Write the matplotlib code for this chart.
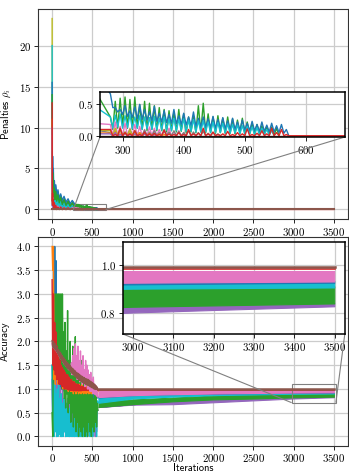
import matplotlib
matplotlib.use("Agg")
import matplotlib.pyplot as plt
from mpl_toolkits.axes_grid1.inset_locator import mark_inset

plt.rcParams['font.family'] = 'serif'
plt.rcParams['font.serif'] = ['cmr10']
plt.rcParams['mathtext.fontset'] = 'cm'
plt.rcParams['axes.formatter.use_mathtext'] = True
plt.rcParams['font.size'] = 7.8

C = {'blue': '#1f77b4', 'orange': '#ff7f0e', 'green': '#2ca02c', 'red': '#d62728',
     'purple': '#9467bd', 'brown': '#8c564b', 'pink': '#e377c2', 'gray': '#7f7f7f',
     'olive': '#bcbd22', 'cyan': '#17becf'}

# ---------------- penalties (top) ----------------
# first iterations, one value per x
pen_x_early = [0, 3, 6, 10, 15, 20, 28, 36, 46, 58, 72, 88, 106, 126, 148, 172, 198, 224, 250]
pen_blue_early = [15.5, 4.0, 6.5, 3.0, 5.0, 2.5, 3.5, 2.0, 3.0, 1.6, 2.4, 1.3, 1.9, 1.1, 1.6, 0.9, 1.3, 0.7, 1.1]
pen_green_early = [14.0, 3.0, 4.5, 2.0, 3.5, 1.5, 2.6, 1.2, 2.2, 1.0, 1.8, 0.8, 1.5, 0.6, 1.2, 0.5, 1.0, 0.4, 0.8]
pen_cyan_early = [20.0, 2.5, 4.0, 1.5, 3.0, 1.0, 2.0, 0.8, 1.5, 0.6, 1.2, 0.5, 1.0, 0.4, 0.8, 0.3, 0.6, 0.2, 0.5]
pen_red_early = [13.0, 1.0, 2.0, 0.5, 1.2, 0.2, 0.8, 0.1, 0.5, 0.0, 0.3, 0.0, 0.3, 0.0, 0.2, 0.0, 0.2, 0.0, 0.1]
pen_olive_early = [23.3, 1.0, 1.5, 0.4, 0.8, 0.2, 0.5, 0.1, 0.3, 0.0, 0.2, 0.0, 0.2, 0.0, 0.15, 0.0, 0.1, 0.0, 0.1]
pen_pink_early = [9.0, 0.8, 1.5, 0.4, 1.0, 0.3, 0.7, 0.2, 0.5, 0.1, 0.4, 0.05, 0.3, 0.0, 0.25, 0.0, 0.2, 0.0, 0.2]
pen_gray_early = [7.0, 0.5, 1.0, 0.3, 0.6, 0.2, 0.4, 0.1, 0.3, 0.0, 0.2, 0.0, 0.15, 0.0, 0.1, 0.0, 0.1, 0.0, 0.1]
pen_orange_early = [11.0, 0.6, 1.2, 0.2, 0.6, 0.1, 0.4, 0.0, 0.2, 0.0, 0.1, 0.0, 0.1, 0.0, 0.05, 0.0, 0.05, 0.0, 0.05]
pen_purple_early = [10.0, 0.4, 0.8, 0.1, 0.4, 0.0, 0.2, 0.0, 0.1, 0.0, 0.1, 0.0, 0.05, 0.0, 0.05, 0.0, 0.05, 0.0, 0.03]

# from iteration 280 on: spike tops every 8 iterations, dips in between
pen_late_start = 280
pen_blue_peaks = [0.67, 0.45, 0.42, 0.48, 0.40, 0.46, 0.50, 0.42, 0.38, 0.47, 0.36, 0.40, 0.34, 0.42, 0.32, 0.36,
                  0.30, 0.38, 0.28, 0.30, 0.27, 0.31, 0.26, 0.29, 0.24, 0.28, 0.22, 0.25, 0.20, 0.23, 0.18, 0.22,
                  0.17, 0.20, 0.16, 0.18, 0.10]
pen_blue_dips = [0.45, 0.38, 0.34, 0.31, 0.29, 0.27, 0.26, 0.25, 0.24, 0.23, 0.22, 0.21, 0.20, 0.19, 0.18, 0.17,
                 0.16, 0.15, 0.14, 0.14, 0.13, 0.12, 0.12, 0.11, 0.10, 0.10, 0.09, 0.09, 0.08, 0.08, 0.07, 0.07,
                 0.06, 0.06, 0.05, 0.04, 0.0]
pen_green_peaks = [0.30, 0.55, 0.60, 0.62, 0.58, 0.62, 0.50, 0.55, 0.52, 0.48, 0.45, 0.42, 0.40, 0.38, 0.42, 0.35,
                   0.30, 0.32, 0.48, 0.52, 0.35, 0.30, 0.32, 0.28, 0.30, 0.27, 0.25, 0.28, 0.22, 0.20, 0.18, 0.16,
                   0.15, 0.14, 0.12]
pen_green_dips = [0.10, 0.12, 0.15, 0.12, 0.10, 0.12, 0.10, 0.08, 0.10, 0.08, 0.08, 0.06, 0.08, 0.06, 0.07, 0.05,
                  0.06, 0.05, 0.06, 0.05, 0.05, 0.04, 0.05, 0.04, 0.04, 0.03, 0.04, 0.03, 0.03, 0.02, 0.03, 0.02,
                  0.02, 0.01, 0.0]
pen_cyan_peaks = [0.30, 0.33, 0.35, 0.32, 0.34, 0.30, 0.32, 0.30, 0.29, 0.31, 0.28, 0.30, 0.27, 0.28, 0.26, 0.27,
                  0.25, 0.26, 0.24, 0.24, 0.22, 0.22, 0.21, 0.20, 0.19, 0.18, 0.17, 0.16, 0.15, 0.14, 0.13, 0.12,
                  0.10, 0.08]
pen_cyan_dips = [0.12, 0.14, 0.12, 0.13, 0.11, 0.12, 0.10, 0.11, 0.10, 0.10, 0.09, 0.09, 0.08, 0.08, 0.08, 0.07,
                 0.07, 0.06, 0.06, 0.06, 0.05, 0.05, 0.05, 0.04, 0.04, 0.04, 0.03, 0.03, 0.03, 0.02, 0.02, 0.02,
                 0.01, 0.0]
# small series drop back to zero between spikes
pen_red_peaks = [0.10, 0.02, 0.12, 0.05, 0.03, 0.08, 0.02, 0.06, 0.03, 0.04, 0.02, 0.09, 0.03, 0.02, 0.05, 0.02,
                 0.10, 0.03, 0.04, 0.12, 0.03, 0.06, 0.02, 0.03, 0.07, 0.02, 0.05, 0.03, 0.11, 0.02, 0.04, 0.08,
                 0.03, 0.12, 0.05, 0.10, 0.02]
pen_pink_peaks = [0.18, 0.22, 0.15, 0.20, 0.12, 0.18, 0.15, 0.10, 0.14, 0.12, 0.10, 0.08, 0.12, 0.06, 0.08, 0.05]
pen_gray_peaks = [0.05, 0.08, 0.10, 0.06, 0.10, 0.08, 0.05, 0.09, 0.06, 0.08, 0.05, 0.10, 0.06, 0.08, 0.07, 0.05,
                  0.08, 0.06, 0.05, 0.07, 0.04, 0.05, 0.03]
pen_olive_peaks = [0.08, 0.12, 0.10, 0.06, 0.10, 0.08, 0.05, 0.04]
pen_orange_peaks = [0.04, 0.06, 0.03, 0.05, 0.04, 0.02, 0.05, 0.03, 0.04, 0.02, 0.03, 0.02]
pen_purple_peaks = [0.03, 0.05, 0.02, 0.04, 0.02, 0.03, 0.02, 0.03, 0.02, 0.02]
pen_end = 3500

# ---------------- accuracy (bottom) ----------------
# noisy phase: tops at 0, 16, 32, ... and dips at 8, 24, 40, ...
acc_green_peaks = [0.5, 3.0, 3.0, 3.0, 3.0, 3.0, 3.0, 3.0, 3.0, 2.2, 2.4, 1.8, 2.65, 1.6, 2.0, 1.5, 1.9, 1.4,
                   2.1, 1.3, 1.7, 1.2, 1.5, 1.6, 1.1, 1.3, 1.4, 1.0, 1.2, 1.3, 0.9, 1.1, 0.8, 1.0, 0.9, 0.7]
acc_green_dips = [0.0, 1.5, 1.8, 1.4, 1.6, 1.2, 1.5, 1.0, 1.3, 0.8, 0.6, 0.9, 0.5, 0.7, 0.3, 0.5, 0.2, 0.4,
                  0.1, 0.3, 0.0, 0.2, 0.1, 0.0, 0.2, 0.0, 0.1, 0.0, 0.3, 0.1, 0.0, 0.2, 0.1, 0.3, 0.2, 0.55]
acc_cyan_peaks = [1.5, 1.1, 1.2, 0.9, 1.0, 1.1, 0.8, 0.9, 0.7, 0.8, 0.6, 0.7, 0.5, 0.6, 0.4, 0.5, 0.3, 0.4,
                  0.3, 0.35, 0.3, 0.25, 0.3, 0.2, 0.3, 0.25, 0.35, 0.5, 0.6, 0.7, 0.8, 0.6, 0.7, 0.8, 0.6, 0.75]
acc_cyan_dips = [0.0, 0.0, 0.1, 0.0, 0.0, 0.05, 0.0, 0.0, 0.0, 0.1, 0.0, 0.0, 0.0, 0.0, 0.0, 0.0, 0.0, 0.0,
                 0.0, 0.0, 0.0, 0.0, 0.0, 0.0, 0.0, 0.0, 0.0, 0.0, 0.1, 0.0, 0.2, 0.0, 0.1, 0.2, 0.0, 0.72]
acc_purple_peaks = [1.2, 1.5, 1.0, 1.3, 1.2, 0.9, 1.1, 0.8, 1.0, 0.7, 0.9, 0.6, 0.8, 0.6, 0.7, 0.5, 0.8, 0.4,
                    0.7, 0.5, 0.6, 0.4, 0.7, 0.5, 0.8, 0.6, 0.7, 0.5, 0.8, 0.9, 0.6, 0.7, 0.5, 0.6, 0.5, 0.6]
acc_purple_dips = [0.2, 0.1, 0.3, 0.0, 0.2, 0.1, 0.3, 0.0, 0.2, 0.1, 0.0, 0.2, 0.1, 0.0, 0.1, 0.0, 0.2, 0.0,
                   0.1, 0.0, 0.1, 0.0, 0.0, 0.1, 0.0, 0.1, 0.0, 0.0, 0.1, 0.0, 0.1, 0.0, 0.1, 0.0, 0.1, 0.55]
acc_orange_peaks = [4.0, 4.0, 1.5, 1.6, 1.4, 1.5, 1.3, 1.4, 1.3, 1.3, 1.2, 1.3, 1.2, 1.2, 1.1, 1.2, 1.1, 1.15,
                    1.1, 1.1, 1.05, 1.1, 1.0, 1.1, 1.0, 1.05, 1.0, 1.05, 1.0, 1.0, 0.98, 1.0, 0.98, 1.0, 0.97, 0.98]
acc_orange_dips = [3.5, 1.2, 1.1, 1.2, 1.1, 1.15, 1.1, 1.1, 1.0, 1.05, 1.0, 1.0, 0.95, 1.0, 0.95, 0.95, 0.9, 0.95,
                   0.9, 0.95, 0.9, 0.92, 0.9, 0.92, 0.9, 0.92, 0.9, 0.92, 0.9, 0.92, 0.9, 0.93, 0.92, 0.93, 0.93, 0.95]
acc_blue_peaks = [1.5, 2.0, 4.0, 3.7, 1.9, 1.5, 1.4, 1.35, 1.3, 1.3, 1.25, 1.2, 1.2, 1.15, 1.15, 1.1, 1.1, 1.1,
                  1.05, 1.05, 1.05, 1.0, 1.0, 1.0, 0.98, 0.97, 0.97, 0.95, 0.95, 0.93, 0.93, 0.92, 0.92, 0.9, 0.9, 0.85]
acc_blue_dips = [0.5, 1.0, 1.5, 1.4, 1.2, 1.1, 1.05, 1.0, 1.0, 0.95, 0.95, 0.9, 0.9, 0.9, 0.85, 0.85, 0.85, 0.8,
                 0.8, 0.8, 0.8, 0.78, 0.78, 0.78, 0.76, 0.76, 0.76, 0.76, 0.76, 0.77, 0.77, 0.78, 0.78, 0.79, 0.8, 0.82]
acc_red_peaks = [3.3, 3.0, 2.4, 2.2, 1.9, 1.7, 1.6, 1.5, 1.45, 1.4, 1.35, 1.3, 1.3, 1.25, 1.2, 1.2, 1.15, 1.15,
                 1.12, 1.1, 1.1, 1.08, 1.06, 1.05, 1.05, 1.04, 1.03, 1.02, 1.02, 1.01, 1.0, 1.0, 1.0, 0.99, 0.99, 0.985]
acc_red_dips = [1.5, 1.4, 1.3, 1.2, 1.2, 1.1, 1.1, 1.05, 1.05, 1.0, 1.0, 1.0, 0.98, 0.98, 0.97, 0.97, 0.96, 0.96,
                0.96, 0.96, 0.96, 0.96, 0.96, 0.97, 0.97, 0.97, 0.97, 0.97, 0.97, 0.98, 0.98, 0.98, 0.98, 0.98, 0.98, 0.983]
acc_pink_peaks = [1.95, 1.93, 1.9, 1.86, 1.82, 1.77, 1.72, 1.68, 1.64, 1.6, 1.56, 1.52, 1.5, 1.46, 1.44, 1.55,
                  1.7, 1.85, 1.95, 1.7, 1.9, 1.6, 1.8, 1.5, 1.7, 1.4, 1.6, 1.5, 1.4, 1.3, 1.35, 1.2, 1.25, 1.1,
                  1.05, 0.97]
acc_pink_dips = [1.88, 1.86, 1.82, 1.78, 1.74, 1.69, 1.64, 1.6, 1.56, 1.52, 1.48, 1.45, 1.42, 1.39, 1.36, 1.3,
                 1.3, 1.3, 1.35, 1.2, 1.3, 1.15, 1.2, 1.1, 1.2, 1.05, 1.1, 1.0, 1.0, 0.95, 0.95, 0.9, 0.9, 0.88,
                 0.85, 0.83]
acc_brown_peaks = [2.02, 2.0, 1.96, 1.92, 1.88, 1.83, 1.78, 1.74, 1.7, 1.66, 1.62, 1.58, 1.55, 1.52, 1.49, 1.46,
                   1.43, 1.4, 1.38, 1.35, 1.33, 1.31, 1.29, 1.27, 1.25, 1.24, 1.22, 1.21, 1.2, 1.18, 1.16, 1.14,
                   1.12, 1.1, 1.07, 1.04]
acc_brown_dips = [1.88, 1.86, 1.82, 1.78, 1.74, 1.69, 1.64, 1.6, 1.56, 1.52, 1.48, 1.45, 1.42, 1.39, 1.36, 1.33,
                  1.3, 1.27, 1.25, 1.22, 1.2, 1.18, 1.16, 1.14, 1.12, 1.11, 1.09, 1.08, 1.07, 1.05, 1.03, 1.02,
                  1.0, 0.99, 0.99, 0.99]

# converged phase, band edges
tail_x = [575, 1000, 1500, 2000, 2500, 3000, 3500]
tail_pink_hi = [0.975, 0.975, 0.975, 0.975, 0.975, 0.974, 0.974]
tail_pink_lo = [0.83, 0.87, 0.89, 0.905, 0.915, 0.925, 0.93]
tail_blue_hi = [0.84, 0.88, 0.90, 0.91, 0.92, 0.925, 0.932]
tail_blue_lo = [0.82, 0.87, 0.89, 0.90, 0.91, 0.918, 0.925]
tail_cyan_hi = [0.82, 0.87, 0.89, 0.90, 0.91, 0.918, 0.925]
tail_cyan_lo = [0.71, 0.80, 0.84, 0.87, 0.885, 0.90, 0.905]
tail_green_hi = [0.74, 0.78, 0.82, 0.86, 0.88, 0.90, 0.91]
tail_green_lo = [0.62, 0.68, 0.74, 0.78, 0.80, 0.824, 0.838]
tail_purple_hi = [0.62, 0.68, 0.74, 0.78, 0.80, 0.824, 0.838]
tail_purple_lo = [0.62, 0.67, 0.68, 0.72, 0.76, 0.80, 0.826]
tail_red = [0.983, 0.983, 0.983, 0.983, 0.983, 0.983, 0.983]
tail_brown = [0.993, 0.993, 0.993, 0.993, 0.993, 0.993, 0.993]


def zigzag(x0, half_step, peaks, dips=None):
    xs, ys = [], []
    for i, p in enumerate(peaks):
        d = 0.0 if dips is None else dips[i]
        xs += [x0 + 2 * i * half_step, x0 + (2 * i + 1) * half_step]
        ys += [p, d]
    return xs, ys


def pen_series(early, peaks, dips=None):
    lx, ly = zigzag(pen_late_start, 4, peaks, dips)
    return pen_x_early + lx, early + ly


pen = {
    'blue': pen_series(pen_blue_early, pen_blue_peaks, pen_blue_dips),
    'green': pen_series(pen_green_early, pen_green_peaks, pen_green_dips),
    'cyan': pen_series(pen_cyan_early, pen_cyan_peaks, pen_cyan_dips),
    'red': pen_series(pen_red_early, pen_red_peaks),
    'olive': pen_series(pen_olive_early, pen_olive_peaks),
    'pink': pen_series(pen_pink_early, pen_pink_peaks),
    'gray': pen_series(pen_gray_early, pen_gray_peaks),
    'orange': pen_series(pen_orange_early, pen_orange_peaks),
    'purple': pen_series(pen_purple_early, pen_purple_peaks),
}
# red and brown stay at zero until the end
pen['red'] = (pen['red'][0] + [pen_end], pen['red'][1] + [0.0])
pen['brown'] = ([0, pen_end], [0.0, 0.0])

acc = {
    'purple': zigzag(0, 8, acc_purple_peaks, acc_purple_dips),
    'blue': zigzag(0, 8, acc_blue_peaks, acc_blue_dips),
    'cyan': zigzag(0, 8, acc_cyan_peaks, acc_cyan_dips),
    'green': zigzag(0, 8, acc_green_peaks, acc_green_dips),
    'orange': zigzag(0, 8, acc_orange_peaks, acc_orange_dips),
    'red': zigzag(0, 8, acc_red_peaks, acc_red_dips),
    'pink': zigzag(0, 8, acc_pink_peaks, acc_pink_dips),
    'brown': zigzag(0, 8, acc_brown_peaks, acc_brown_dips),
}
tail_bands = [('purple', tail_purple_lo, tail_purple_hi), ('green', tail_green_lo, tail_green_hi),
              ('cyan', tail_cyan_lo, tail_cyan_hi), ('blue', tail_blue_lo, tail_blue_hi),
              ('pink', tail_pink_lo, tail_pink_hi)]


def draw_acc(ax):
    for name, (x, y) in acc.items():
        ax.plot(x, y, color=C[name], lw=1.0)
    for name, lo, hi in tail_bands:
        ax.fill_between(tail_x, lo, hi, color=C[name], lw=0.8, edgecolor=C[name])
    ax.plot(tail_x, tail_red, color=C['red'], lw=1.2)
    ax.plot(tail_x, tail_brown, color=C['brown'], lw=1.8)


def style(ax, inset=False):
    ax.grid(True, color='#cccccc', lw=0.9)
    ax.set_axisbelow(True)
    ax.tick_params(length=3, width=0.6, pad=2)
    for s in ax.spines.values():
        s.set_linewidth(1.1 if inset else 0.8)
        s.set_color('black' if inset else '#333333')


fig = plt.figure(figsize=(3.49, 4.74), dpi=100)
ax1 = fig.add_axes([0.109, 0.538, 0.888, 0.443])
ax2 = fig.add_axes([0.109, 0.0591, 0.888, 0.441])

# top panel: the dense early part reads as a filled blob
for name in ['blue', 'green', 'cyan', 'pink', 'gray', 'orange', 'purple', 'olive', 'red']:
    x, y = pen[name]
    ax1.fill_between(x, 0, y, color=C[name], lw=0)
for name in ['olive', 'cyan', 'blue', 'green', 'pink', 'gray', 'orange', 'purple', 'red', 'brown']:
    x, y = pen[name]
    ax1.plot(x, y, color=C[name], lw=1.5 if name == 'brown' else 1.0)
style(ax1)
ax1.set_yticks([0, 5, 10, 15, 20])
ax1.set_ylabel(r'Penalties $\rho_i$', fontfamily='cmss10', fontsize=7.5)

ins1 = fig.add_axes([0.2865, 0.711, 0.702, 0.095])
for name in ['green', 'blue', 'cyan', 'pink', 'gray', 'olive', 'orange', 'purple', 'brown', 'red']:
    x, y = pen[name]
    ins1.plot(x, y, color=C[name], lw=1.0)
ins1.set_xlim(263, 664)
ins1.set_ylim(-0.02, 0.70)
ins1.set_xticks([300, 400, 500, 600])
ins1.set_yticks([0.0, 0.5])
style(ins1, inset=True)
mark_inset(ax1, ins1, loc1=3, loc2=4, fc='none', ec='0.5', lw=0.8)

# bottom panel
draw_acc(ax2)
style(ax2)
ax2.tick_params(axis='x', pad=1)
ax2.set_ylabel('Accuracy', fontfamily='cmss10', fontsize=7.5)
ax2.set_xlabel('Iterations', fontfamily='cmss10', fontsize=7.5)
ax2.xaxis.set_label_coords(0.5, -0.08)

ins2 = fig.add_axes([0.352, 0.2954, 0.636, 0.1947])
draw_acc(ins2)
ins2.set_xlim(2975, 3525)
ins2.set_ylim(0.712, 1.099)
ins2.set_yticks([0.8, 1.0])
ins2.set_xticks([3000, 3100, 3200, 3300, 3400, 3500])
style(ins2, inset=True)
mark_inset(ax2, ins2, loc1=3, loc2=4, fc='none', ec='0.5', lw=0.8)

fig.savefig('out.png', dpi=100)
